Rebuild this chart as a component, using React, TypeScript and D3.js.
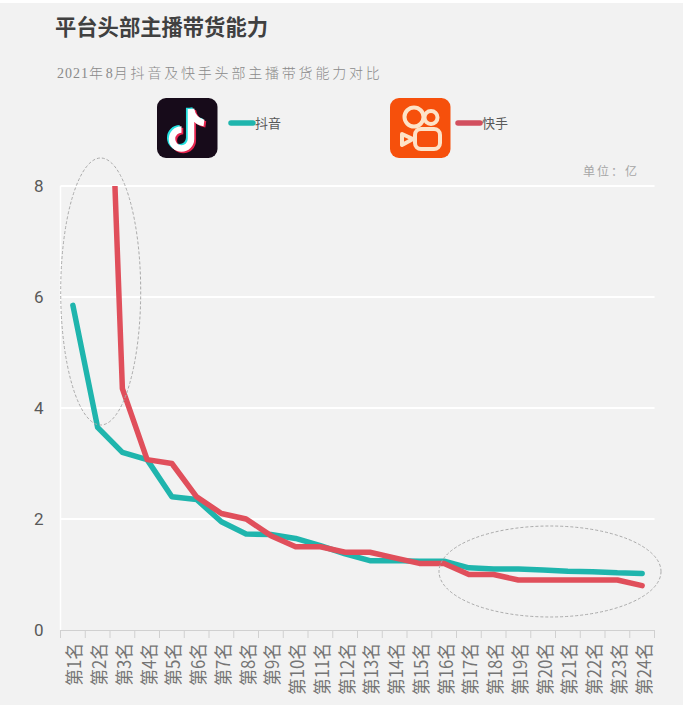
import * as d3 from "d3";
import { useEffect, useRef } from "react";

const ranks = ["第1名","第2名","第3名","第4名","第5名","第6名","第7名","第8名","第9名","第10名","第11名","第12名","第13名","第14名","第15名","第16名","第17名","第18名","第19名","第20名","第21名","第22名","第23名","第24名"];
const douyin = [5.85,3.65,3.2,3.07,2.4,2.35,1.95,1.73,1.72,1.65,1.52,1.37,1.25,1.25,1.24,1.24,1.12,1.1,1.1,1.08,1.06,1.05,1.03,1.02];
// first two are far above the axis max, the chart cuts them off at 8
const kuaishou = [19,16.5,4.35,3.07,3.0,2.4,2.1,2.0,1.7,1.5,1.5,1.4,1.4,1.3,1.2,1.2,1.0,1.0,0.9,0.9,0.9,0.9,0.9,0.8];
const yTicks = [0,2,4,6,8];
const subtitleParts = ["2021","年","8","月抖音及快手头部主播带货能力对比"];

const CJK = '"Noto Sans CJK SC", "Noto Sans", sans-serif';
const TEAL = "#1fb5ad";
const RED = "#e04f5b";

export default function App() {
  const svgRef = useRef<SVGSVGElement | null>(null);

  useEffect(() => {
    if (!svgRef.current) return;
    const svg = d3.select(svgRef.current);
    svg.selectAll("*").remove();

    const left = 60.5, right = 654.5, top = 186, bottom = 630;

    // background
    svg.append("rect").attr("x", 0).attr("y", 3).attr("width", 683).attr("height", 702).attr("fill", "#f2f2f2");

    const x = d3.scaleBand().domain(ranks).range([left, right]);
    const y = d3.scaleLinear().domain([0, 8]).range([bottom, top]);

    // grid
    svg.append("g").selectAll("line").data(yTicks.filter(d => d > 0)).enter().append("line")
      .attr("x1", left).attr("x2", right)
      .attr("y1", d => y(d)).attr("y2", d => y(d))
      .attr("stroke", "#fff").attr("stroke-width", 2);
    svg.append("line").attr("x1", left).attr("x2", left).attr("y1", top).attr("y2", bottom)
      .attr("stroke", "#fff").attr("stroke-width", 1.5);

    // y axis
    const yAxis = svg.append("g").attr("transform", `translate(${left},0)`)
      .call(d3.axisLeft(y).tickValues(yTicks).tickSize(0).tickPadding(17).tickFormat(d3.format("d")));
    yAxis.select(".domain").remove();
    yAxis.selectAll("text").attr("font-family", "Roboto, sans-serif").attr("font-size", 17).attr("fill", "#595959");

    // x axis
    const xAxis = svg.append("g").attr("transform", `translate(0,${bottom})`)
      .call(d3.axisBottom(x).tickSize(0));
    xAxis.select(".domain").attr("stroke", "#d0d0d0");
    xAxis.selectAll("text")
      .attr("font-family", CJK).attr("font-size", 18).attr("fill", "#757575")
      .attr("text-anchor", "end").attr("dy", "0.36em").attr("y", 0)
      .attr("transform", "translate(2,13) rotate(-90) scale(0.93,1)");
    // tick marks sit on the band edges
    svg.append("g").selectAll("line").data([...ranks.map(d => x(d)!), right]).enter().append("line")
      .attr("x1", d => d).attr("x2", d => d).attr("y1", bottom).attr("y2", bottom + 8)
      .attr("stroke", "#d0d0d0");

    // lines
    svg.append("clipPath").attr("id", "plot").append("rect")
      .attr("x", left).attr("y", top).attr("width", right - left).attr("height", bottom - top);
    const line = d3.line<number>().x((_, i) => x(ranks[i])! + x.bandwidth() / 2).y(d => y(d));
    svg.append("path").datum(douyin).attr("d", line).attr("fill", "none")
      .attr("stroke", TEAL).attr("stroke-width", 5.5).attr("stroke-linejoin", "round").attr("stroke-linecap", "round")
      .attr("clip-path", "url(#plot)");
    svg.append("path").datum(kuaishou).attr("d", line).attr("fill", "none")
      .attr("stroke", RED).attr("stroke-width", 5.5).attr("stroke-linejoin", "round").attr("stroke-linecap", "round")
      .attr("clip-path", "url(#plot)");

    // dashed callouts
    [[100.7, 291.5, 40, 133.5], [550, 571.5, 111, 45.5]].forEach(([cx, cy, rx, ry]) => {
      svg.append("ellipse").attr("cx", cx).attr("cy", cy).attr("rx", rx).attr("ry", ry)
        .attr("fill", "none").attr("stroke", "#aaa").attr("stroke-width", 1).attr("stroke-dasharray", "3 2");
    });

    // titles
    svg.append("text").attr("x", 55).attr("y", 34.5).attr("font-family", CJK).attr("font-weight", 700)
      .attr("font-size", 21.3).attr("fill", "#404040").text("平台头部主播带货能力");
    const sub = svg.append("text").attr("x", 57).attr("y", 78).attr("font-family", '"Liberation Serif", "Noto Sans CJK SC", serif')
      .attr("font-size", 14).attr("font-weight", 300).attr("fill", "#8a8a8a");
    // digits sit tighter than the wide-spaced hanzi
    subtitleParts.forEach((s, i) => {
      sub.append("tspan").attr("letter-spacing", i % 2 === 0 ? 1 : 2.8).text(s);
    });
    svg.append("text").attr("x", 583).attr("y", 176).attr("font-family", CJK)
      .attr("font-size", 12).attr("letter-spacing", 2).attr("fill", "#a6a6a6").text("单位：亿");

    // legend
    const legend: [string, string, number][] = [["抖音", TEAL, 229], ["快手", "#d2505f", 456]];
    legend.forEach(([name, color, lx]) => {
      svg.append("line").attr("x1", lx + 2).attr("x2", lx + 24).attr("y1", 123).attr("y2", 123)
        .attr("stroke", color).attr("stroke-width", 5.5).attr("stroke-linecap", "round");
      svg.append("text").attr("x", lx + 26).attr("y", 127.5).attr("font-family", CJK)
        .attr("font-size", 13).attr("fill", "#595959").text(name);
    });

    // douyin logo
    const dy = svg.append("g").attr("transform", "translate(157,98)");
    dy.append("rect").attr("width", 60.5).attr("height", 60).attr("rx", 9).attr("fill", "#170b1a");
    const note = "M34 11 V41 A9.5 9.5 0 1 1 24.5 31.5 M34 11 C35 18 40 24 47 25";
    [["#25e0e0", -1.8, -1.2], ["#e5264f", 1.8, 1.4], ["#fff", 0, 0]].forEach(([c, ox, oy]) => {
      dy.append("path").attr("d", note).attr("transform", `translate(${ox},${oy})`).attr("fill", "none")
        .attr("stroke", c as string).attr("stroke-width", 6.5);
    });

    // kuaishou logo
    const ks = svg.append("g").attr("transform", "translate(390,98)")
      .attr("fill", "none").attr("stroke", "#fde3c8").attr("stroke-width", 4);
    ks.append("rect").attr("width", 60.5).attr("height", 60).attr("rx", 9).attr("fill", "#f6500c").attr("stroke", "none");
    ks.append("circle").attr("cx", 24).attr("cy", 19).attr("r", 9.5);
    ks.append("circle").attr("cx", 41).attr("cy", 19.5).attr("r", 6.5);
    ks.append("rect").attr("x", 25).attr("y", 31).attr("width", 25).attr("height", 20).attr("rx", 6);
    ks.append("path").attr("d", "M12 36 L23 41 L12 47 Z").attr("stroke-linejoin", "round");
  }, []);

  return <svg ref={svgRef} width={688} height={711} style={{ position: "absolute", left: 0, top: 0 }} />;
}
